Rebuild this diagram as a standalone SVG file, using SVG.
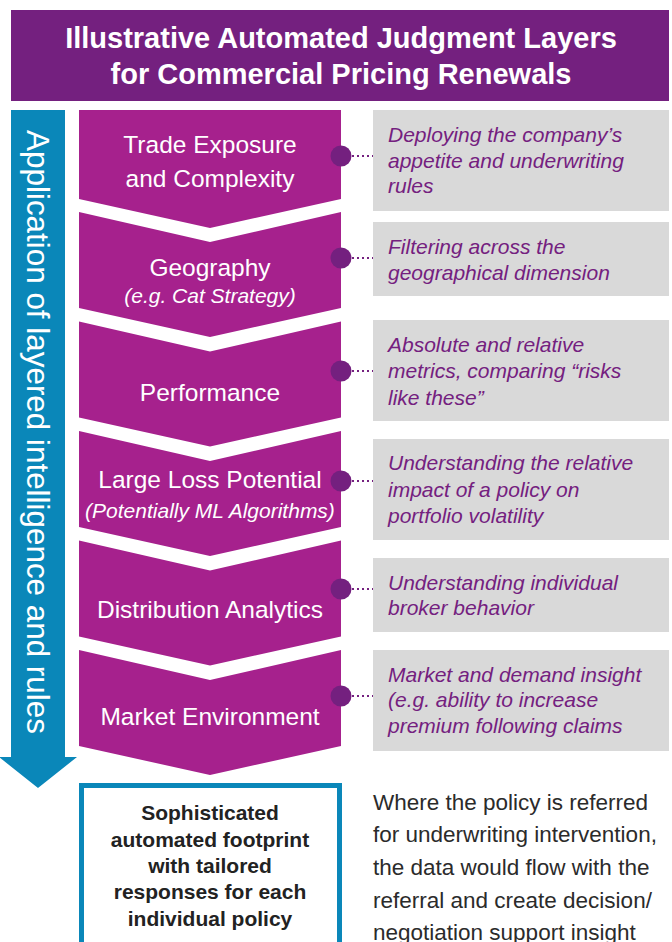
<svg xmlns="http://www.w3.org/2000/svg" width="672" height="942" viewBox="0 0 672 942">
<style>
.chev{fill:#A6218D}
.ct{font-family:"Liberation Sans",Arial,sans-serif;font-size:24.5px;fill:#fff;text-anchor:middle}
.cs{font-family:"Liberation Sans",Arial,sans-serif;font-size:21px;font-style:italic;fill:#fff;text-anchor:middle}
.box{fill:#D9D9D9}
.bt{font-family:"Liberation Sans",Arial,sans-serif;font-size:21px;font-style:italic;fill:#74207F}
.dot{fill:#74207F}
.dl{stroke:#74207F;stroke-width:2;stroke-dasharray:2 3;fill:none}
</style>
<rect width="672" height="942" fill="#fff"/>
<g id="title">
<rect x="11" y="10" width="658" height="91" fill="#74207F"/>
<text x="341" y="48" font-family="Liberation Sans,Arial,sans-serif" font-size="29" font-weight="bold" fill="#fff" text-anchor="middle">Illustrative Automated Judgment Layers</text>
<text x="341" y="84" font-family="Liberation Sans,Arial,sans-serif" font-size="29" font-weight="bold" fill="#fff" text-anchor="middle">for Commercial Pricing Renewals</text>
</g>
<g id="flow-arrow">
<path d="M11,110 H65 V757 H77 L38,788 L-1,757 H11 Z" fill="#0A87B9"/>
<text transform="translate(27 432) rotate(90)" font-family="Liberation Sans,Arial,sans-serif" font-size="31.4" fill="#fff" text-anchor="middle">Application of layered intelligence and rules</text>
</g>
<g id="layer-trade">
<path class="chev" d="M79,110 H341 V199 L210,228 L79,199 Z"/>
<text class="ct" x="210" y="153">Trade Exposure</text>
<text class="ct" x="210" y="187">and Complexity</text>
</g>
<g id="layer-geography">
<path class="chev" d="M79,212 L210,242 L341,212 V308 L210,337 L79,308 Z"/>
<text class="ct" x="210" y="276">Geography</text>
<text class="cs" x="210" y="303">(e.g. Cat Strategy)</text>
</g>
<g id="layer-performance">
<path class="chev" d="M79,321.5 L210,351.5 L341,321.5 V417.5 L210,446.5 L79,417.5 Z"/>
<text class="ct" x="210" y="401">Performance</text>
</g>
<g id="layer-largeloss">
<path class="chev" d="M79,431 L210,461 L341,431 V527 L210,556 L79,527 Z"/>
<text class="ct" x="210" y="488">Large Loss Potential</text>
<text class="cs" x="210" y="518">(Potentially ML Algorithms)</text>
</g>
<g id="layer-distribution">
<path class="chev" d="M79,540.5 L210,570.5 L341,540.5 V636.5 L210,665.5 L79,636.5 Z"/>
<text class="ct" x="210" y="618">Distribution Analytics</text>
</g>
<g id="layer-market">
<path class="chev" d="M79,650 L210,680 L341,650 V746 L210,775 L79,746 Z"/>
<text class="ct" x="210" y="725">Market Environment</text>
</g>
<g id="note-trade">
<rect class="box" x="373" y="110" width="296" height="101"/>
<text class="bt" x="388" y="142">Deploying the company’s</text>
<text class="bt" x="388" y="168">appetite and underwriting</text>
<text class="bt" x="388" y="193">rules</text>
</g>
<g id="note-geography">
<rect class="box" x="373" y="222" width="296" height="74"/>
<text class="bt" x="388" y="254">Filtering across the</text>
<text class="bt" x="388" y="280">geographical dimension</text>
</g>
<g id="note-performance">
<rect class="box" x="373" y="320" width="296" height="101"/>
<text class="bt" x="388" y="352">Absolute and relative</text>
<text class="bt" x="388" y="378">metrics, comparing “risks</text>
<text class="bt" x="388" y="405">like these”</text>
</g>
<g id="note-largeloss">
<rect class="box" x="373" y="439" width="296" height="101"/>
<text class="bt" x="388" y="470">Understanding the relative</text>
<text class="bt" x="388" y="497">impact of a policy on</text>
<text class="bt" x="388" y="523">portfolio volatility</text>
</g>
<g id="note-distribution">
<rect class="box" x="373" y="558" width="296" height="74"/>
<text class="bt" x="388" y="590">Understanding individual</text>
<text class="bt" x="388" y="615">broker behavior</text>
</g>
<g id="note-market">
<rect class="box" x="373" y="650" width="296" height="101"/>
<text class="bt" x="388" y="682">Market and demand insight</text>
<text class="bt" x="388" y="707">(e.g. ability to increase</text>
<text class="bt" x="388" y="733">premium following claims</text>
</g>
<g id="connectors">
<path class="dl" d="M352,156 H373 M352,258 H373 M352,371 H373 M352,481 H373 M352,589 H373 M352,696 H373"/>
<circle class="dot" cx="341" cy="156" r="10.5"/>
<circle class="dot" cx="341" cy="258" r="10.5"/>
<circle class="dot" cx="341" cy="371" r="10.5"/>
<circle class="dot" cx="341" cy="481" r="10.5"/>
<circle class="dot" cx="341" cy="589" r="10.5"/>
<circle class="dot" cx="341" cy="696" r="10.5"/>
</g>
<g id="outcome">
<rect x="81.5" y="785.5" width="258" height="175" fill="#fff" stroke="#0A87B9" stroke-width="5"/>
<g font-family="Liberation Sans,Arial,sans-serif" font-size="21" font-weight="bold" fill="#222" text-anchor="middle">
<text x="210" y="820">Sophisticated</text>
<text x="210" y="847">automated footprint</text>
<text x="210" y="873">with tailored</text>
<text x="210" y="899">responses for each</text>
<text x="210" y="926">individual policy</text>
</g>
</g>
<g id="referral-note" font-family="Liberation Sans,Arial,sans-serif" font-size="22.5" fill="#2B2B2B">
<text x="373" y="810">Where the policy is referred</text>
<text x="373" y="842">for underwriting intervention,</text>
<text x="373" y="875">the data would flow with the</text>
<text x="373" y="908">referral and create decision/</text>
<text x="373" y="940">negotiation support insight</text>
</g>
</svg>
